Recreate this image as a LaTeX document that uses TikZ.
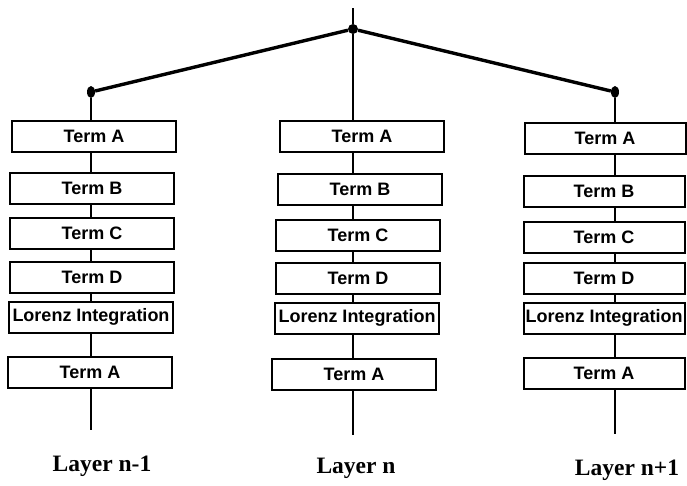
\documentclass[tikz,border=0pt]{standalone}
\usepackage{fontspec}
\setmainfont{Liberation Serif}
\newfontfamily\boxfont{Liberation Sans}
\usetikzlibrary{shapes.geometric}

\begin{document}
\begin{tikzpicture}
  [
   x=1pt,y=-1pt,
   term/.style={rectangle,draw,line width=2pt,fill=white,inner sep=0pt,
     minimum width=164pt,minimum height=31pt,
     font=\boxfont\bfseries\fontsize{18}{18}\selectfont},
   dot/.style={ellipse,fill,inner sep=0pt,minimum width=8pt,minimum height=12pt},
   hubdot/.style={circle,fill,inner sep=0pt,minimum size=10pt},
   link/.style={line width=1.8pt},
   branch/.style={line width=3.4pt},
   layer/.style={font=\bfseries\fontsize{23.5}{23.5}\selectfont}
  ]
   \useasboundingbox (0,0) rectangle (687,485);

   % tree on top
   \coordinate (top) at (353,8);
   \node[hubdot] (hub) at (353,29) {};
   \node[dot] (dl) at (91,92) {};
   \node[dot] (dr) at (615,92) {};

   % layer n-1
   \node[term] (l1) at (94,136) {Term A};
   \node[term] (l2) at (92,188) {Term B};
   \node[term] (l3) at (92,233) {Term C};
   \node[term] (l4) at (92,277) {Term D};
   \node[term] (l5) at (91,317) {Lorenz Integration};
   \node[term] (l6) at (90,372) {Term A};
   \coordinate (lend) at (91,430);
   \node[layer] (lname) at (102,466) {Layer n-1};

   % layer n
   \node[term] (m1) at (362,136) {Term A};
   \node[term] (m2) at (360,189) {Term B};
   \node[term] (m3) at (358,235) {Term C};
   \node[term] (m4) at (358,278) {Term D};
   \node[term] (m5) at (357,318) {Lorenz Integration};
   \node[term] (m6) at (354,374) {Term A};
   \coordinate (mend) at (353,435);
   \node[layer] (mname) at (356,468) {Layer n};

   % layer n+1
   \node[term,minimum width=161pt] (r1) at (605,138) {Term A};
   \node[term,minimum width=161pt] (r2) at (604,191) {Term B};
   \node[term,minimum width=161pt] (r3) at (604,237) {Term C};
   \node[term,minimum width=161pt] (r4) at (604,278) {Term D};
   \node[term,minimum width=161pt] (r5) at (604,318) {Lorenz Integration};
   \node[term,minimum width=161pt] (r6) at (604,373) {Term A};
   \coordinate (rend) at (615,434);
   \node[layer] (rname) at (627,470) {Layer n+1};

   \draw[link] (top) -- (hub);
   \draw[branch] (hub) -- (dl);
   \draw[branch] (hub) -- (dr);

   \draw[link] (dl) -- (l1.north -| dl)
     (l1.south -| dl) -- (l2.north -| dl)
     (l2.south -| dl) -- (l3.north -| dl)
     (l3.south -| dl) -- (l4.north -| dl)
     (l4.south -| dl) -- (l5.north -| dl)
     (l5.south -| dl) -- (l6.north -| dl)
     (l6.south -| dl) -- (lend);

   \draw[link] (hub) -- (m1.north -| hub)
     (m1.south -| hub) -- (m2.north -| hub)
     (m2.south -| hub) -- (m3.north -| hub)
     (m3.south -| hub) -- (m4.north -| hub)
     (m4.south -| hub) -- (m5.north -| hub)
     (m5.south -| hub) -- (m6.north -| hub)
     (m6.south -| hub) -- (mend);

   \draw[link] (dr) -- (r1.north -| dr)
     (r1.south -| dr) -- (r2.north -| dr)
     (r2.south -| dr) -- (r3.north -| dr)
     (r3.south -| dr) -- (r4.north -| dr)
     (r4.south -| dr) -- (r5.north -| dr)
     (r5.south -| dr) -- (r6.north -| dr)
     (r6.south -| dr) -- (rend);

\end{tikzpicture}
\end{document}
